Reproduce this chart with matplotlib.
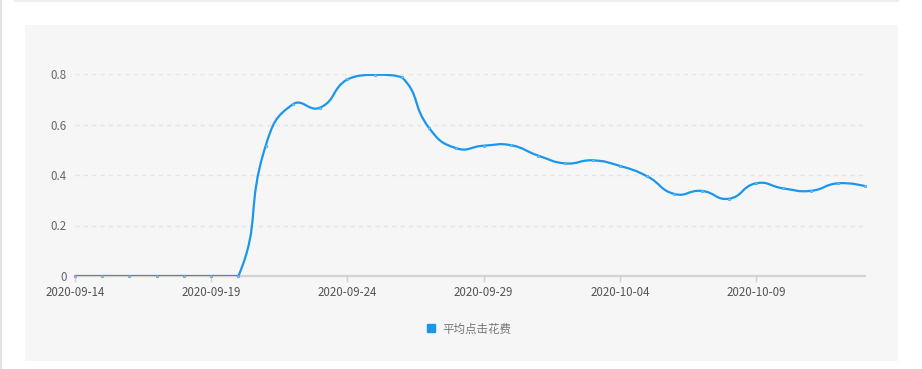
import matplotlib
matplotlib.use('Agg')
import matplotlib.pyplot as plt
from matplotlib.path import Path
from matplotlib.patches import PathPatch, Rectangle
from matplotlib.lines import Line2D
import numpy as np

# ---------------- data ----------------
dates = ['2020-09-14', '2020-09-15', '2020-09-16', '2020-09-17', '2020-09-18',
         '2020-09-19', '2020-09-20', '2020-09-21', '2020-09-22', '2020-09-23',
         '2020-09-24', '2020-09-25', '2020-09-26', '2020-09-27', '2020-09-28',
         '2020-09-29', '2020-09-30', '2020-10-01', '2020-10-02', '2020-10-03',
         '2020-10-04', '2020-10-05', '2020-10-06', '2020-10-07', '2020-10-08',
         '2020-10-09', '2020-10-10', '2020-10-11', '2020-10-12', '2020-10-13']
values = [0, 0, 0, 0, 0, 0, 0, 0.516, 0.68, 0.667,
          0.779, 0.797, 0.787, 0.586, 0.506, 0.516, 0.518, 0.477, 0.446, 0.458,
          0.436, 0.395, 0.325, 0.337, 0.306, 0.367, 0.347, 0.337, 0.367, 0.356]
series_name = '平均点击花费'
y_ticks = [0, 0.2, 0.4, 0.6, 0.8]
y_tick_labels = ['0', '0.2', '0.4', '0.6', '0.8']
x_tick_labels = ['2020-09-14', '2020-09-19', '2020-09-24', '2020-09-29',
                 '2020-10-04', '2020-10-09']

LINE_COLOR = '#1a97ec'

plt.rcParams['font.family'] = ['Noto Sans CJK SC', 'DejaVu Sans']

W, H = 922, 369
fig = plt.figure(figsize=(W / 100, H / 100), dpi=100)
fig.patch.set_facecolor('white')

# background panel and frame lines
fig.add_artist(Rectangle((25 / W, 1 - 361 / H), (898 - 25) / W, (361 - 25) / H,
                         transform=fig.transFigure, facecolor='#f6f6f6',
                         edgecolor='none', zorder=0))
fig.add_artist(Line2D([15 / W, 898 / W], [1 - 1 / H, 1 - 1 / H],
                      transform=fig.transFigure, color='#eeeeee', lw=1.5))
fig.add_artist(Line2D([0.8 / W, 0.8 / W], [0, 1],
                      transform=fig.transFigure, color='#dddddd', lw=1.2))

ax = fig.add_axes([75 / W, 1 - 276 / H, 790 / W, 202 / H])
ax.set_facecolor('none')
x = np.arange(len(dates))
ax.set_xlim(0, len(dates) - 1)
ax.set_ylim(0, 0.8)

# ---------------- smooth line (echarts-4-like bezier) ----------------
pts = ax.transData.transform(np.column_stack([x, values]))


def smooth_path(p, smooth=0.5):
    n = len(p)
    lo = p.min(axis=0)
    hi = p.max(axis=0)
    fwd = [None] * n
    bwd = [None] * n
    fwd[0] = p[0].copy()
    bwd[n - 1] = p[n - 1].copy()
    for i in range(1, n - 1):
        prev, cur, nxt = p[i - 1], p[i], p[i + 1]
        v = (nxt - prev) * smooth
        d0 = np.hypot(*(cur - prev))
        d1 = np.hypot(*(nxt - cur))
        s = d0 + d1
        if s:
            d0 /= s
            d1 /= s
        cp0 = np.clip(cur - v * d0, lo, hi)
        cp1 = np.clip(cur + v * d1, lo, hi)
        bwd[i] = cp0
        fwd[i] = cp1
    verts = [p[0]]
    codes = [Path.MOVETO]
    for i in range(1, n):
        verts += [fwd[i - 1], bwd[i], p[i]]
        codes += [Path.CURVE4] * 3
    return np.array(verts), codes


verts, codes = smooth_path(pts)
verts_data = ax.transData.inverted().transform(verts)
ax.add_patch(PathPatch(Path(verts_data, codes), facecolor='none',
                       edgecolor=LINE_COLOR, lw=1.6, zorder=3,
                       capstyle='round', joinstyle='round'))
ax.plot(x, values, linestyle='none', marker='o', markersize=2.0,
        markerfacecolor='#7cc6f7', markeredgecolor=LINE_COLOR,
        markeredgewidth=0.3, zorder=4, clip_on=False)

# ---------------- axes styling ----------------
for s in ['top', 'right', 'left']:
    ax.spines[s].set_visible(False)
ax.spines['bottom'].set_color('#d2d2d2')
ax.spines['bottom'].set_linewidth(1.6)
ax.spines['bottom'].set_zorder(2)

ax.set_yticks(y_ticks)
ax.set_yticklabels(y_tick_labels)
ax.yaxis.grid(True, linestyle=(0, (3, 3)), color='#e4e4e4', lw=1)
ax.set_axisbelow(True)
ax.tick_params(axis='y', length=0, pad=6, labelsize=8.3, labelcolor='#666666')

tick_pos = [dates.index(d) for d in x_tick_labels]
ax.set_xticks(tick_pos)
ax.set_xticklabels(x_tick_labels)
ax.tick_params(axis='x', length=4, width=1, color='#d2d2d2', pad=3,
               labelsize=8.3, labelcolor='#555555')

# ---------------- legend ----------------
handle = Line2D([], [], linestyle='none', marker='s', markersize=6,
                color=LINE_COLOR)
fig.legend([handle], [series_name], loc='center',
           bbox_to_anchor=(469 / W, 1 - 329 / H), frameon=False,
           fontsize=8.3, labelcolor='#777777', handlelength=0.8,
           handletextpad=0.6, borderpad=0)

fig.savefig('out.png', dpi=100, facecolor='white')
